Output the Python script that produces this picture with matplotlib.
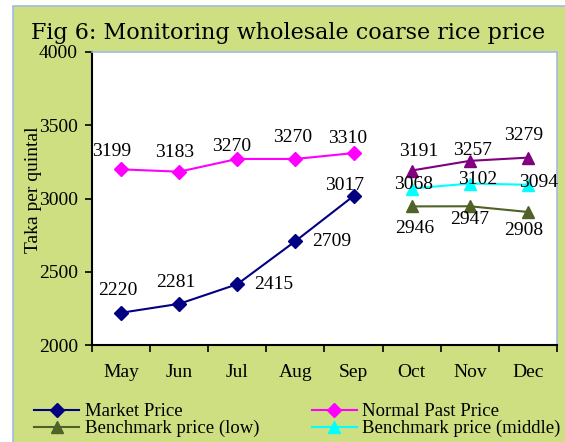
import matplotlib.pyplot as plt
from matplotlib.patches import Rectangle
import numpy as np

months = ["May", "Jun", "Jul", "Aug", "Sep", "Oct", "Nov", "Dec"]
market = [2220, 2281, 2415, 2709, 3017]
normal_past = [3199, 3183, 3270, 3270, 3310]
bench_high = [3191, 3257, 3279]
bench_low = [2946, 2947, 2908]
bench_mid = [3068, 3102, 3094]

# label offsets in pixels (dx, dy)
off_market = [(-3, 22), (-3, 21), (36, 0), (36, 0), (-9, 11)]
off_normal = [(-9, 18), (-5, 19), (-6, 12), (-3, 21), (-6, 15)]
off_high = [(7, 19), (3, 10), (-4, 22)]
off_mid = [(2, 4), (8, 4), (11, 2)]
off_low = [(3, -22), (0, -13), (-4, -19)]

plt.rcParams['font.family'] = ['Liberation Serif', 'DejaVu Serif']

fig = plt.figure(figsize=(5.65, 4.42), dpi=100)
fig.patch.set_facecolor("white")
fig.patches.append(Rectangle((12.5 / 565, -0.1), 1.0, 1 - 6 / 442 + 0.1,
                             transform=fig.transFigure, facecolor="#cddf80",
                             edgecolor="#9fbbe3", linewidth=1.2, zorder=-10))

ax = fig.add_axes([92 / 565, 1 - 345 / 442, (557 - 92) / 565, (345 - 52) / 442])
ax.set_facecolor("white")

x_first = np.arange(5)
x_last = np.arange(5, 8)

def draw(xs, ys, color, marker, ms, label, offs):
    ax.plot(xs, ys, color=color, marker=marker, markersize=ms, lw=1.5,
            label=label, clip_on=False, zorder=3)
    for xi, yi, (dx, dy) in zip(xs, ys, offs):
        ax.annotate(str(yi), (xi, yi), xytext=(dx * 0.72, dy * 0.72),
                    textcoords="offset points", ha="center", va="center",
                    fontsize=14, zorder=5)

draw(x_first, market, "#000080", "D", 7, "Market Price", off_market)
draw(x_first, normal_past, "#ff00ff", "D", 7, "Normal Past Price", off_normal)
draw(x_last, bench_low, "#4f6228", "^", 9, "Benchmark price (low)", off_low)
draw(x_last, bench_mid, "#00ffff", "^", 9, "Benchmark price (middle)", off_mid)
draw(x_last, bench_high, "#800080", "^", 9, "_nolegend_", off_high)

ax.set_xlim(-0.5, 7.5)
ax.set_ylim(2000, 4000)
ax.set_yticks([2000, 2500, 3000, 3500, 4000])
ax.set_xticks(np.arange(8))
ax.set_xticklabels(months)
ax.set_xticks(np.arange(-0.5, 8, 1), minor=True)
ax.tick_params(axis="x", which="major", length=0, pad=14, labelsize=14)
ax.tick_params(axis="x", which="minor", length=5, width=1.2, direction="out")
ax.tick_params(axis="y", length=5, width=1.2, pad=5, labelsize=14)

for s in ["left", "bottom"]:
    ax.spines[s].set_color("black")
    ax.spines[s].set_linewidth(1.5)
for s in ["top", "right"]:
    ax.spines[s].set_color("#9fbbe3")
    ax.spines[s].set_linewidth(1.2)

fig.text(33 / 565, 1 - 190 / 442, "Taka per quintal", rotation=90,
         ha="center", va="center", fontsize=14)

fig.text(31 / 565, 1 - 38.5 / 442, "Fig 6: Monitoring wholesale coarse rice price",
         ha="left", va="baseline", fontsize=16, family="DejaVu Serif")

h, l = ax.get_legend_handles_labels()
order = [0, 2, 1, 3]
fig.legend([h[i] for i in order], [l[i] for i in order], ncol=2,
           loc="upper left", bbox_to_anchor=(34 / 565, 1 - 403 / 442),
           frameon=False, fontsize=13.5, handlelength=2.4, handletextpad=0.3,
           columnspacing=2.8, labelspacing=0.0, borderpad=0, borderaxespad=0)

plt.savefig("out.png", dpi=100)
